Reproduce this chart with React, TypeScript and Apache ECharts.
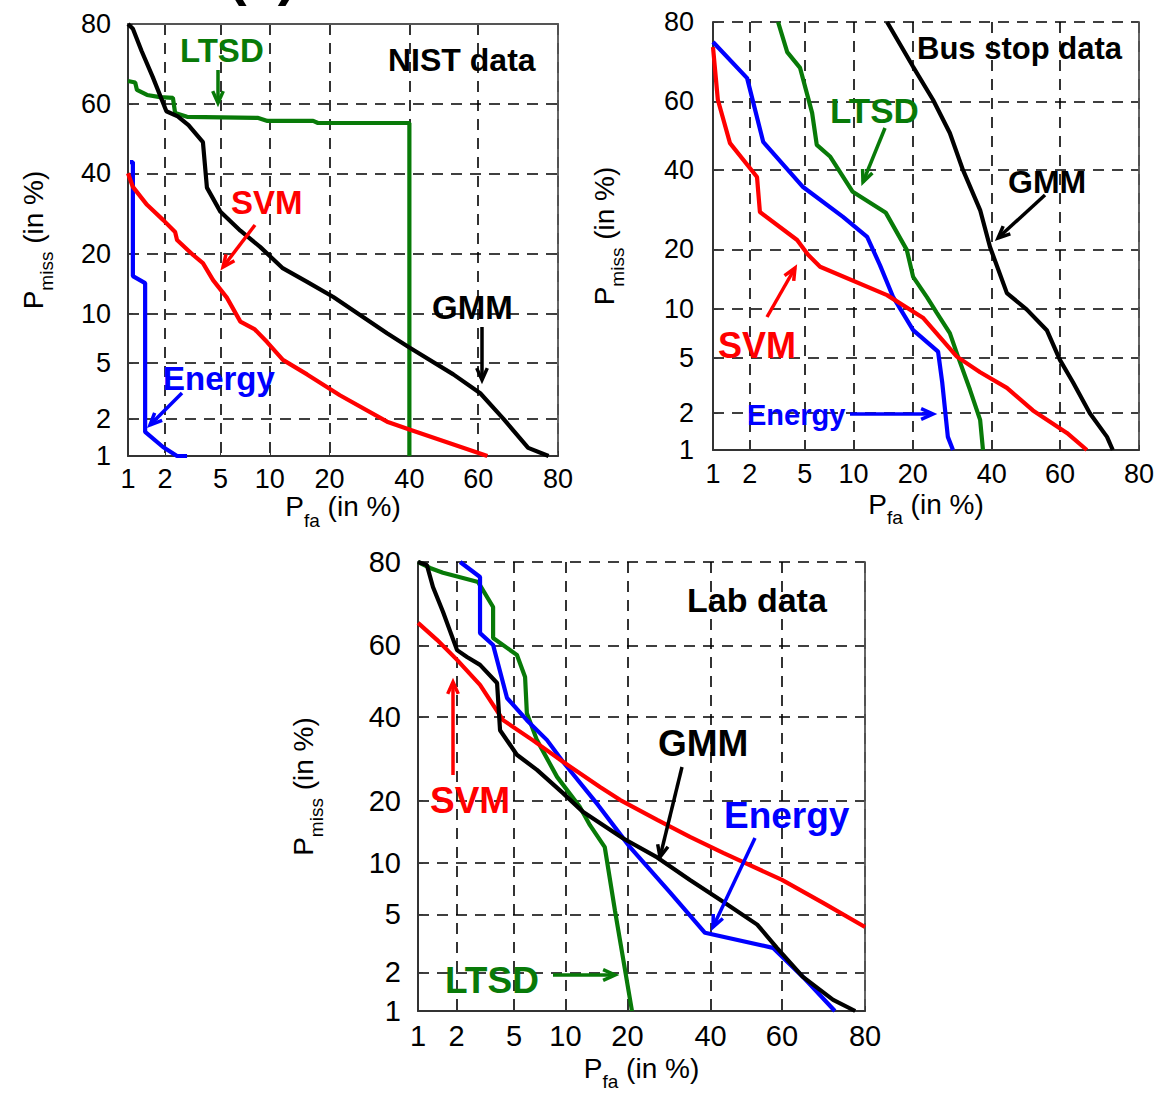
import React, { useEffect, useRef } from "react";
import * as echarts from "echarts";

// ---------- tick values (percent) ----------
const TICK_VALUES = [1, 2, 5, 10, 20, 40, 60, 80];
const TICK_LABELS = ["1", "2", "5", "10", "20", "40", "60", "80"];

// ---------- NIST data: [Pfa %, Pmiss %] ----------
const nistGMM = [[1, 80], [1.1, 79], [1.3, 74], [1.6, 67.5], [2.05, 58], [2.5, 56.5], [3, 54], [3.8, 49], [4.05, 36], [5, 29.6], [6.7, 25], [8.8, 21.4], [11.7, 17.2], [15.7, 14.7], [20.8, 12.3], [33.8, 7.7], [40, 6.3], [52.8, 4.2], [60.6, 3.1], [67, 2], [73.3, 1.17], [78, 1]];
const nistLTSD = [[1, 66.4], [1.15, 66], [1.19, 64], [1.44, 62.6], [1.83, 62], [2.3, 61.8], [2.39, 57.5], [2.93, 56.4], [8.5, 56.1], [9.7, 55.2], [16.8, 55.2], [17.7, 54.6], [40, 54.6], [40, 1]];
const nistSVM = [[1, 40], [1.1, 36.2], [1.44, 31.4], [1.93, 27.6], [2.39, 24.7], [2.47, 22.9], [3.24, 19.7], [3.8, 18.1], [4.46, 15], [5.5, 12.2], [6.7, 9], [8.2, 8.1], [9.65, 6.8], [11.8, 5.25], [15.7, 4.2], [22.2, 3], [33.8, 1.9], [40.2, 1.64], [62.6, 1]];
const nistEnergy = [[1.04, 43.2], [1.1, 43.2], [1.1, 15.7], [1.39, 14.5], [1.39, 1.58], [1.93, 1.19], [2.47, 1], [2.93, 1]];

// ---------- Bus stop data ----------
const busGMM = [[15.1, 80], [20.1, 69.5], [24.5, 60.5], [28.6, 50.8], [32, 40], [36.7, 29.1], [39.5, 20.5], [44.4, 12.2], [50.3, 9.9], [56.2, 7.5], [60, 4.85], [63.7, 3.4], [68.3, 2], [72.7, 1.29], [74.1, 1]];
const busLTSD = [[3.27, 80], [3.8, 73.2], [4.66, 69.2], [5.6, 56.7], [6, 47.3], [7.3, 43.8], [9.9, 33.9], [14.9, 28.4], [18.8, 19.9], [20.1, 14.8], [23.1, 11.6], [25.4, 9.5], [28.6, 7.2], [30.7, 5.1], [33.9, 3], [36.7, 1.77], [37.5, 1]];
const busSVM = [[1, 74.4], [1.1, 60.5], [1.39, 47.8], [2.28, 38], [2.4, 28.6], [4.45, 22], [5.27, 18.9], [6.3, 16.6], [15.1, 11.9], [22.2, 8.9], [30.4, 5.1], [36.7, 4], [44.4, 3.1], [52.1, 2.1], [62, 1.39], [67.5, 1]];
const busEnergy = [[1, 75.6], [1.91, 66.5], [2.54, 48.2], [4.88, 35.2], [8.7, 27.4], [11.9, 22.7], [13.9, 16.9], [16.2, 11.6], [20.1, 7.5], [25.7, 5.5], [26.7, 3.4], [28.1, 1.29], [29.4, 1]];

// ---------- Lab data ----------
const labGMM = [[1, 80], [1.18, 79.4], [1.32, 74.7], [1.58, 68.8], [2.02, 58.7], [2.39, 56.8], [2.96, 54.6], [3.87, 49.5], [4.05, 36.5], [5.2, 30.2], [6.9, 26.6], [9.7, 21.5], [12.4, 17.8], [19.1, 13.4], [26.4, 10.7], [34.5, 8.05], [43.5, 6], [53.1, 4.3], [58.6, 3], [65.6, 1.85], [73.1, 1.23], [78, 1]];
const labLTSD = [[1, 80], [1.25, 78.8], [1.58, 77.8], [2.87, 75.8], [3.64, 70], [3.64, 62], [5.2, 57.4], [5.85, 51.2], [6, 41.1], [6.9, 33.9], [9, 25], [11.9, 18.8], [13.4, 15.5], [15.8, 12.1], [17.6, 5.3], [19.5, 2.1], [20.9, 1]];
const labSVM = [[1, 66], [1.42, 61.5], [2.02, 56], [2.96, 49], [4.24, 39.2], [6.5, 33.9], [9.7, 28.5], [15, 22.8], [18.6, 20.1], [26.4, 16.4], [34.5, 13.6], [43.5, 11.3], [60, 8.05], [70.7, 5.9], [80, 4.15]];
const labEnergy = [[2.13, 80], [2.96, 76.9], [2.96, 63.3], [3.64, 60.1], [4.5, 45.3], [6, 39.2], [7.9, 33.9], [9.7, 28.5], [14.7, 19.1], [20.5, 12.1], [29.5, 6.8], [38.5, 3.8], [57.5, 3], [65.6, 1.85], [73.5, 1]];

const PANEL_TITLES = ["NIST data", "Bus stop data", "Lab data"];

// ---------- normal deviate (probit) scale ----------
function probit(p: number): number {
  const a = [-3.969683028665376e1, 2.209460984245205e2, -2.759285104469687e2, 1.38357751867269e2, -3.066479806614716e1, 2.506628277459239];
  const b = [-5.447609879822406e1, 1.615858368580409e2, -1.556989798598866e2, 6.680131188771972e1, -1.328068155288572e1];
  const c = [-7.784894002430293e-3, -3.223964580411365e-1, -2.400758277161838, -2.549732539343734, 4.374664141464968, 2.938163982698783];
  const d = [7.784695709041462e-3, 3.224671290700398e-1, 2.445134137142996, 3.754408661907416];
  const plow = 0.02425;
  const phigh = 1 - plow;
  if (p < plow) {
    const q = Math.sqrt(-2 * Math.log(p));
    return (((((c[0] * q + c[1]) * q + c[2]) * q + c[3]) * q + c[4]) * q + c[5]) / ((((d[0] * q + d[1]) * q + d[2]) * q + d[3]) * q + 1);
  }
  if (p <= phigh) {
    const q = p - 0.5;
    const r = q * q;
    return ((((((a[0] * r + a[1]) * r + a[2]) * r + a[3]) * r + a[4]) * r + a[5]) * q) / (((((b[0] * r + b[1]) * r + b[2]) * r + b[3]) * r + b[4]) * r + 1);
  }
  const q = Math.sqrt(-2 * Math.log(1 - p));
  return -(((((c[0] * q + c[1]) * q + c[2]) * q + c[3]) * q + c[4]) * q + c[5]) / ((((d[0] * q + d[1]) * q + d[2]) * q + d[3]) * q + 1);
}

const tr = (v: number) => probit(v / 100);
const TICK_POS = TICK_VALUES.map(tr);
const AX_MIN = TICK_POS[0];
const AX_MAX = TICK_POS[TICK_POS.length - 1];
const labelFor = (v: number) => {
  let best = 0;
  for (let i = 1; i < TICK_POS.length; i++) {
    if (Math.abs(TICK_POS[i] - v) < Math.abs(TICK_POS[best] - v)) best = i;
  }
  return TICK_LABELS[best];
};

const FONT = "'Liberation Sans', Arial, Helvetica, sans-serif";
const RED = "#ff0000";
const BLUE = "#0000ff";
const GREEN = "#087a08";
const BLACK = "#000000";

const PANELS = [
  { left: 128, top: 24, width: 430, height: 432, topSolid: true, tickFont: 27, xMargin: 9, yMargin: 17, xGap: 36, yGap: 72,
    series: { LTSD: nistLTSD, Energy: nistEnergy, SVM: nistSVM, GMM: nistGMM } },
  { left: 713, top: 22, width: 426, height: 428, topSolid: false, tickFont: 27, xMargin: 10, yMargin: 19, xGap: 40, yGap: 86,
    series: { LTSD: busLTSD, Energy: busEnergy, SVM: busSVM, GMM: busGMM } },
  { left: 418, top: 562, width: 447, height: 449, topSolid: false, tickFont: 29, xMargin: 10, yMargin: 17, xGap: 43, yGap: 92,
    series: { LTSD: labLTSD, Energy: labEnergy, SVM: labSVM, GMM: labGMM } },
];

const COLORS: Record<string, string> = { LTSD: GREEN, Energy: BLUE, SVM: RED, GMM: BLACK };

function arrow(x1: number, y1: number, x2: number, y2: number, color: string, head = 13) {
  const ang = Math.atan2(y2 - y1, x2 - x1);
  const a1 = ang + Math.PI - 0.42;
  const a2 = ang + Math.PI + 0.42;
  return [
    { type: "line", z: 100, shape: { x1, y1, x2, y2 }, style: { stroke: color, lineWidth: 3.5 } },
    {
      type: "polyline",
      z: 100,
      shape: {
        points: [
          [x2 + head * Math.cos(a1), y2 + head * Math.sin(a1)],
          [x2, y2],
          [x2 + head * Math.cos(a2), y2 + head * Math.sin(a2)],
        ],
      },
      style: { stroke: color, lineWidth: 3.5, fill: "none" },
    },
  ];
}

function label(text: string, x: number, y: number, color: string, size: number) {
  return {
    type: "text",
    z: 100,
    x,
    y,
    style: { text, fill: color, font: `bold ${size}px ${FONT}`, verticalAlign: "middle", align: "left" },
  };
}

function buildOption() {
  const grid: any[] = [];
  const xAxis: any[] = [];
  const yAxis: any[] = [];
  const series: any[] = [];

  const richName = () => ({
    rich: {
      p: { fontSize: 28, fontFamily: FONT, color: "#000", padding: [0, 0, 9, 0], verticalAlign: "bottom" },
      s: { fontSize: 19, fontFamily: FONT, color: "#000", verticalAlign: "bottom" },
      t: { fontSize: 28, fontFamily: FONT, color: "#000", padding: [0, 0, 9, 0], verticalAlign: "bottom" },
    },
  });

  PANELS.forEach((pn, i) => {
    grid.push({ left: pn.left, top: pn.top, width: pn.width, height: pn.height, containLabel: false });
    const common = {
      type: "value",
      min: AX_MIN,
      max: AX_MAX,
      gridIndex: i,
    };
    const lineStyle = { color: "#333", width: 2 };
    const splitLine = { show: true, lineStyle: { color: "#000", width: 1.6, type: [11, 8] } };
    const axisTick = { show: true, inside: true, length: 5, customValues: TICK_POS, lineStyle: { color: "#333", width: 1 } };
    xAxis.push({
      ...common,
      position: "bottom",
      axisLine: { show: true, onZero: false, lineStyle },
      axisTick,
      splitLine,
      axisLabel: { customValues: TICK_POS, formatter: labelFor, color: "#000", fontSize: pn.tickFont, fontFamily: FONT, margin: pn.xMargin },
      name: "{p|P}{s|fa}{t| (in %)}",
      nameLocation: "middle",
      nameGap: pn.xGap,
      nameTextStyle: richName(),
    });
    xAxis.push({
      ...common,
      position: "top",
      axisLine: { show: pn.topSolid, onZero: false, lineStyle: { color: "#555", width: 1.8 } },
      axisTick: { show: false },
      axisLabel: { show: false },
      splitLine: { show: false },
    });
    yAxis.push({
      ...common,
      position: "left",
      axisLine: { show: true, onZero: false, lineStyle },
      axisTick,
      splitLine,
      axisLabel: { customValues: TICK_POS, formatter: labelFor, color: "#000", fontSize: pn.tickFont, fontFamily: FONT, margin: pn.yMargin },
      name: "{p|P}{s|miss}{t| (in %)}",
      nameLocation: "middle",
      nameRotate: 90,
      nameGap: pn.yGap,
      nameTextStyle: richName(),
    });
    yAxis.push({
      ...common,
      position: "right",
      axisLine: { show: true, onZero: false, lineStyle: { color: "#555", width: 1.8 } },
      axisTick: { show: false },
      axisLabel: { show: false },
      splitLine: { show: false },
    });

    (["LTSD", "Energy", "SVM", "GMM"] as const).forEach((name) => {
      const data = (pn.series as any)[name].map((pt: number[]) => [tr(pt[0]), tr(pt[1])]);
      series.push({
        type: "line",
        name: `${PANEL_TITLES[i]} ${name}`,
        xAxisIndex: 2 * i,
        yAxisIndex: 2 * i,
        data,
        showSymbol: false,
        symbol: "none",
        clip: true,
        lineStyle: { color: COLORS[name], width: 4.2 },
        silent: true,
      });
    });
  });

  const graphic: any[] = [
    // cut-off panel letter at top
    label("(a)", 228, -26, "#000", 56),
    // NIST
    label("LTSD", 180, 50, GREEN, 33),
    ...arrow(218, 70, 218, 103, GREEN),
    label("NIST data", 388, 60, "#000", 32),
    label("SVM", 231, 202, RED, 33),
    ...arrow(255, 225, 223, 267, RED),
    label("GMM", 432, 307, "#000", 33),
    ...arrow(482, 327, 482, 380, "#000"),
    label("Energy", 163, 378, BLUE, 33),
    ...arrow(182, 393, 150, 425, BLUE),
    // Bus stop
    label("Bus stop data", 917, 48, "#000", 31),
    label("LTSD", 830, 110, GREEN, 35),
    ...arrow(885, 128, 863, 182, GREEN),
    label("GMM", 1008, 182, "#000", 32),
    ...arrow(1045, 195, 998, 238, "#000"),
    label("SVM", 718, 345, RED, 36),
    ...arrow(767, 317, 795, 268, RED),
    label("Energy", 747, 415, BLUE, 29),
    ...arrow(850, 414, 933, 414, BLUE),
    // Lab
    label("Lab data", 687, 600, "#000", 34),
    label("GMM", 658, 743, "#000", 37),
    ...arrow(682, 767, 660, 857, "#000"),
    label("Energy", 724, 815, BLUE, 37),
    ...arrow(755, 838, 713, 927, BLUE),
    label("SVM", 430, 800, RED, 37),
    ...arrow(453, 775, 453, 682, RED),
    label("LTSD", 445, 980, GREEN, 37),
    ...arrow(553, 975, 615, 975, GREEN),
  ];

  return {
    animation: false,
    backgroundColor: "#ffffff",
    grid,
    xAxis,
    yAxis,
    series,
    graphic,
  };
}

export default function App() {
  const ref = useRef<HTMLDivElement>(null);
  useEffect(() => {
    if (!ref.current) return;
    const chart = echarts.init(ref.current, null, { renderer: "svg" });
    chart.setOption(buildOption() as any);
    return () => chart.dispose();
  }, []);
  return (
    <div
      ref={ref}
      style={{ position: "absolute", left: 0, top: 0, width: 1163, height: 1097, background: "#fff" }}
    />
  );
}
